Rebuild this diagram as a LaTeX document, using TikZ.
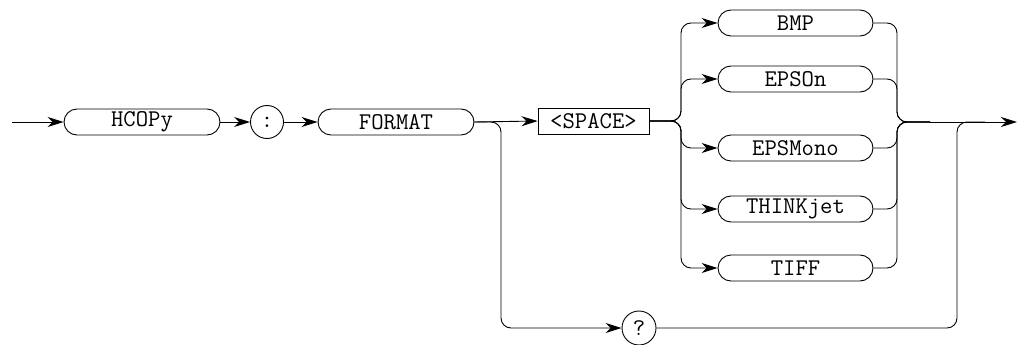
\documentclass[tikz,border=0pt]{standalone}
\usepackage{fontspec}
\usetikzlibrary{shapes.misc,arrows.meta}
\begin{document}
\begin{tikzpicture}[x=1pt,y=-1pt,
  line width=0.9pt,
  every node/.style={font=\ttfamily\fontsize{24}{28}\selectfont, inner sep=0pt, line width=0.9pt},
  kw/.style={draw, rounded rectangle, minimum width=155pt, minimum height=26pt},
  ph/.style={draw, rectangle, minimum width=111pt, minimum height=26pt},
  sym/.style={draw, circle, minimum size=33pt},
  arr/.style={-{Stealth[length=16pt,width=10pt,inset=5pt]}},
  conn/.style={rounded corners=10pt}]
\useasboundingbox (0,0) rectangle (1018,345);
\coordinate (start) at (12,122);
\node[kw, minimum width=156pt] (hcopy) at (142,122) {HCOPy};
\node[sym] (colon) at (267,122) {:};
\node[kw, minimum width=156pt] (format) at (396,122) {FORMAT};
\node[ph] (space) at (593.5,121) {<SPACE>};
\node[kw] (bmp) at (795.5,23) {BMP};
\node[kw] (epson) at (795.5,79) {EPSOn};
\node[kw] (epsmono) at (795.5,148) {EPSMono};
\node[kw] (think) at (795.5,209) {THINKjet};
\node[kw] (tiff) at (795.5,268) {TIFF};
\node[sym, minimum size=34pt] (q) at (639,328) {?};
\coordinate (m) at (930,122);
\coordinate (m2) at (985,122);
\coordinate (end) at (1017,122);
\draw[arr] (start) -- (hcopy.west);
\draw[arr] (hcopy.east) -- (colon.west);
\draw[arr] (colon.east) -- (format.west);
\draw[arr] (format.east) -- (space.west);
\draw[arr, conn] (format.east) -- (501,122) -- (501,328) -- (q.west);
\foreach \o in {bmp,epson,epsmono,think,tiff}{
  \draw[arr, conn] (space.east) -- (681,121) |- (\o.west);
  \draw[conn] (\o.east) -| (897,122) -- (m);
}
\draw[conn] (q.east) -| (957,122) -- (m2);
\draw[arr] (m) -- (end);
\end{tikzpicture}
\end{document}
